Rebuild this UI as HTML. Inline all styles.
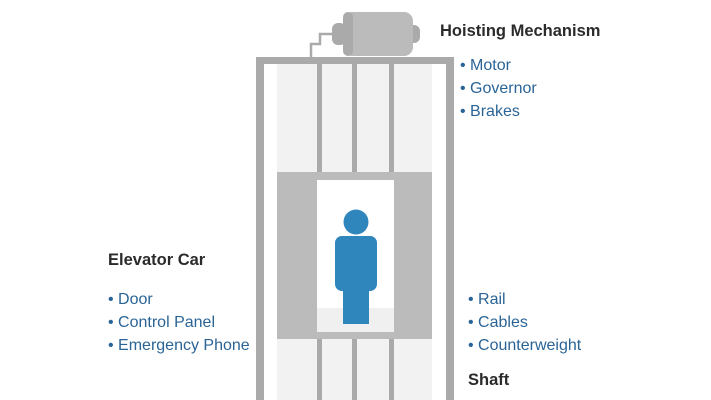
<!DOCTYPE html>
<html><head><style>
body{margin:0;width:711px;height:400px;background:#fff;position:relative;overflow:hidden;font-family:"Liberation Sans",sans-serif}
.a{position:absolute}
.h{position:absolute;font-weight:bold;color:#2b2b2b;font-size:16.5px;white-space:nowrap}
.b{position:absolute;color:#2a6496;font-size:16px;white-space:nowrap;line-height:23px}
</style></head><body>
<svg class="a" style="left:0;top:0" width="711" height="400">
<rect x="277" y="64" width="155" height="336" fill="#f2f2f2"/>
<rect x="264" y="172" width="13" height="170" fill="#fff"/>
<rect x="432" y="172" width="14" height="170" fill="#fff"/>
<rect x="256" y="57" width="8" height="343" fill="#aaa"/>
<rect x="446" y="57" width="8" height="343" fill="#aaa"/>
<rect x="256" y="57" width="198" height="7" fill="#aaa"/>
<rect x="317" y="64" width="5" height="336" fill="#aaa"/>
<rect x="352" y="64" width="5" height="336" fill="#aaa"/>
<rect x="389" y="64" width="5" height="336" fill="#aaa"/>
<rect x="277" y="172" width="155" height="167" fill="#bbb"/>
<rect x="317" y="180" width="77" height="152" fill="#fff"/>
<rect x="317" y="308" width="77" height="24" fill="#f0f0f0"/>
<circle cx="356" cy="222" r="12.5" fill="#2e86bd"/>
<rect x="335" y="236" width="42" height="55" rx="7" fill="#2e86bd"/>
<rect x="343" y="280" width="26" height="44" fill="#2e86bd"/>
<polyline points="311,57 311,44 320,44 320,34 334,34" fill="none" stroke="#aaa" stroke-width="2.5"/>
<rect x="332" y="23" width="14" height="22" rx="6" fill="#aaa"/>
<rect x="408" y="25" width="12" height="18" rx="6" fill="#aaa"/>
<rect x="343" y="12" width="70" height="44" rx="9" fill="#bbb"/>
<rect x="343" y="12" width="10" height="44" rx="5" fill="#aaa"/>
</svg>
<div class="h" style="left:440px;top:22px">Hoisting Mechanism</div>
<div class="b" style="left:460px;top:54px">• Motor<br>• Governor<br>• Brakes</div>
<div class="h" style="left:108px;top:251px">Elevator Car</div>
<div class="b" style="left:108px;top:288px">• Door<br>• Control Panel<br>• Emergency Phone</div>
<div class="b" style="left:468px;top:288px">• Rail<br>• Cables<br>• Counterweight</div>
<div class="h" style="left:468px;top:371px">Shaft</div>
</body></html>
